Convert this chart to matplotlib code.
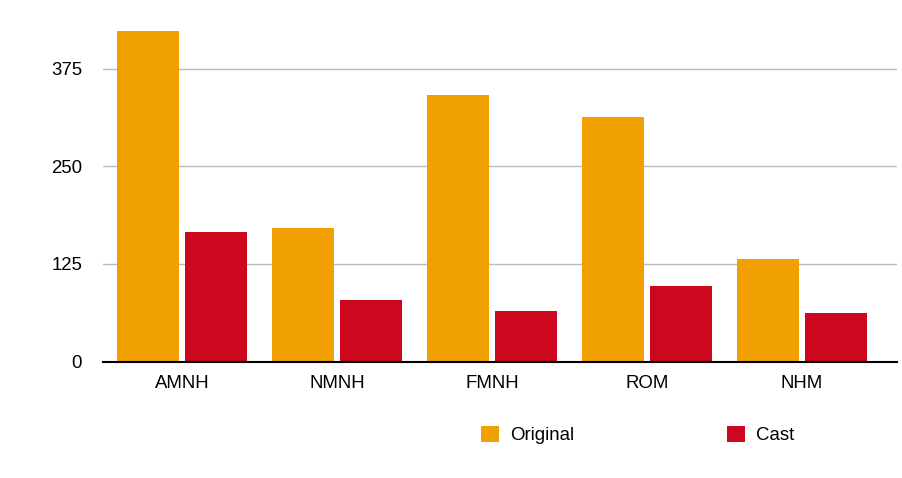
import numpy as np
import matplotlib.pyplot as plt

museums = ['AMNH', 'NMNH', 'FMNH', 'ROM', 'NHM']
original = [423, 171, 341, 313, 131]
cast = [166, 79, 65, 97, 62]
yticks = [0, 125, 250, 375]

plt.rcParams['font.family'] = ['Liberation Sans', 'DejaVu Sans']

fig = plt.figure(figsize=(9.03, 4.78), dpi=100)
ax = fig.add_axes([0.114, 0.2433, 0.8794, 0.7147])

x = np.arange(len(museums))
w = 0.4
gap = 0.0387
ax.bar(x - (w + gap) / 2, original, width=w, color='#F0A000', label='Original', zorder=2)
ax.bar(x + (w + gap) / 2, cast, width=w, color='#CC071E', label='Cast', zorder=2)

ax.set_xlim(-0.51, 4.613)
ax.set_ylim(0, 437)
ax.set_yticks(yticks)
ax.set_xticks(x)
ax.set_xticklabels(museums)
ax.tick_params(axis='both', length=0, labelsize=13.4)
ax.tick_params(axis='y', pad=15)
ax.tick_params(axis='x', pad=9.5)

ax.grid(axis='y', color='#bbbbbb', linewidth=1, zorder=0)
for s in ['top', 'right', 'left']:
    ax.spines[s].set_visible(False)
ax.spines['bottom'].set_linewidth(1.5)
ax.spines['bottom'].set_color('black')
ax.spines['bottom'].set_zorder(3)

fig.legend(loc='center left', bbox_to_anchor=(0.533, 0.09), ncol=2, frameon=False,
           fontsize=13.4, handlelength=0.97, handleheight=0.97, handletextpad=0.6,
           columnspacing=8.2, borderpad=0, borderaxespad=0)

fig.savefig('out.png', dpi=100)
